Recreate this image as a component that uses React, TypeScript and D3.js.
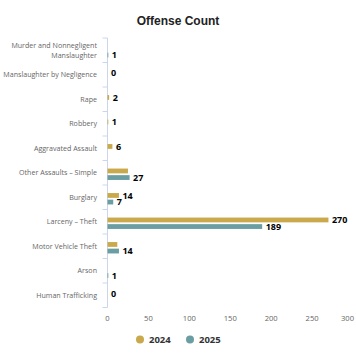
import React from "react";
import * as d3 from "d3";

const categories = [
  ["Murder and Nonnegligent", "Manslaughter"],
  ["Manslaughter by Negligence"],
  ["Rape"],
  ["Robbery"],
  ["Aggravated Assault"],
  ["Other Assaults \u2013 Simple"],
  ["Burglary"],
  ["Larceny \u2013 Theft"],
  ["Motor Vehicle Theft"],
  ["Arson"],
  ["Human Trafficking"],
];
const series2024: (number | null)[] = [null, 0, 2, 1, 6, 25, 14, 270, 12, null, 0];
const series2025: (number | null)[] = [1, null, null, null, null, 27, 7, 189, 14, 1, null];
const seriesNames = ["2024", "2025"];
const colors = ["#c9a94b", "#6a9ea2"];
const xTicks = [0, 50, 100, 150, 200, 250, 300];

const W = 356, H = 356;
const left = 107.5, right = 353, top = 38, bottom = 307.5;

export default function App() {
  const x = d3.scaleLinear().domain([0, 300]).range([left, right]);
  const y = d3.scaleBand<number>().domain(categories.map((_, i) => i)).range([top, bottom]);
  const bw = y.bandwidth();
  const barH = 4.8;
  const offs = [-4.2, 2.4];
  const all = [series2024, series2025];

  type Lbl = { x: number; y: number; t: string; w: number; s: number };
  const labels: Lbl[] = [];
  all.forEach((s, si) => {
    s.forEach((v, i) => {
      if (v === null) return;
      const cy = (y(i) as number) + bw / 2 + offs[si] + barH / 2;
      const t = String(v);
      labels.push({ x: x(v) + 3.5, y: cy, t, w: t.length * 5.2, s: si });
    });
  });
  // hide 2024 labels that collide with 2025 labels (as in the reference)
  const finalLabels = labels.filter((l) => {
    return !labels.some((o) => {
      if (o === l) return false;
      const ov = l.x < o.x + o.w && o.x < l.x + l.w && Math.abs(l.y - o.y) < 9;
      return ov && l.s === 0 && o.s === 1;
    });
  });

  return (
    <svg width={W} height={H} style={{ position: "absolute", left: 0, top: 0, background: "#fff" }}>
      <rect width={W} height={H} fill="#fff" />
      <text x={178} y={25} textAnchor="middle" fontFamily="Liberation Sans, Arial, sans-serif" fontWeight="bold" fontSize={12} fill="#222">
        Offense Count
      </text>
      <line x1={left} x2={left} y1={top} y2={bottom} stroke="#ccd6eb" strokeWidth={1} />
      {categories.map((_, i) => (
        <line key={"t" + i} x1={left - 5} x2={left} y1={(y(i) as number)} y2={(y(i) as number)} stroke="#ccd6eb" />
      ))}
      <line x1={left - 5} x2={left} y1={bottom} y2={bottom} stroke="#ccd6eb" />
      {categories.map((lines, i) => {
        const cy = (y(i) as number) + bw / 2;
        return (
          <text key={"c" + i} x={97} textAnchor="end" fontFamily="Open Sans, sans-serif" fontSize={7.1} fill="#666">
            {lines.map((ln, k) => (
              <tspan key={k} x={97} y={cy + 2.5 + (k - (lines.length - 1) / 2) * 10}>
                {ln}
              </tspan>
            ))}
          </text>
        );
      })}
      {all.map((s, si) =>
        s.map((v, i) =>
          v === null || v === 0 ? null : (
            <rect
              key={`b${si}-${i}`}
              x={x(0)}
              y={(y(i) as number) + bw / 2 + offs[si]}
              width={x(v) - x(0)}
              height={barH}
              fill={colors[si]}
            />
          )
        )
      )}
      {finalLabels.map((l, k) => (
        <text
          key={"l" + k}
          x={l.x}
          y={l.y + 3.2}
          fontFamily="Open Sans, sans-serif"
          fontWeight="bold"
          fontSize={9}
          fill="#000"
          stroke="#fff"
          strokeWidth={2}
          paintOrder="stroke"
        >
          {l.t}
        </text>
      ))}
      {xTicks.map((t, i) => (
        <text
          key={"x" + t}
          x={i === xTicks.length - 1 ? 354 : x(t)}
          y={320.5}
          textAnchor={i === xTicks.length - 1 ? "end" : "middle"}
          fontFamily="Open Sans, sans-serif"
          fontSize={7.6}
          fill="#666"
        >
          {t}
        </text>
      ))}
      {seriesNames.map((n, i) => (
        <g key={"lg" + n} transform={`translate(${140 + i * 50},339.5)`}>
          <circle cx={0} cy={0} r={4} fill={colors[i]} />
          <text x={9} y={3.4} fontFamily="Open Sans, sans-serif" fontWeight="bold" fontSize={9.5} fill="#333">
            {n}
          </text>
        </g>
      ))}
    </svg>
  );
}
